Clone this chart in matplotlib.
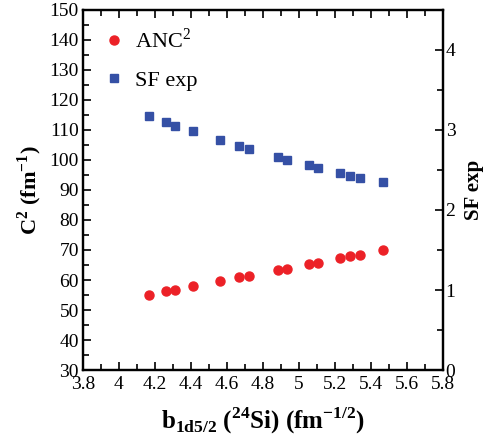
import matplotlib
matplotlib.use('Agg')
import matplotlib.pyplot as plt
from matplotlib.ticker import MultipleLocator

plt.rcParams['font.family'] = ['Liberation Serif', 'DejaVu Serif']
plt.rcParams['mathtext.fontset'] = 'custom'
plt.rcParams['mathtext.rm'] = 'Liberation Serif'
plt.rcParams['mathtext.bf'] = 'Liberation Serif:bold'

# b_1d5/2 values (fm^-1/2)
b = [4.168, 4.261, 4.311, 4.409, 4.561, 4.668, 4.721, 4.885, 4.935,
     5.054, 5.106, 5.229, 5.285, 5.341, 5.468]
# ANC^2 (fm^-1), left axis
anc2 = [55.1, 56.3, 56.8, 57.9, 59.7, 61.0, 61.4, 63.3, 63.8,
        65.3, 65.8, 67.3, 67.9, 68.4, 70.0]
# spectroscopic factor, right axis
sf = [3.175, 3.104, 3.054, 2.988, 2.871, 2.80, 2.762, 2.659, 2.621,
      2.559, 2.525, 2.462, 2.429, 2.40, 2.346]

red = '#ec2127'
blue = '#3550a5'

fig = plt.figure(figsize=(4.85, 4.48), dpi=100)
ax = fig.add_axes([0.171, 0.174, 0.742, 0.804])
ax2 = ax.twinx()

l1, = ax.plot(b, anc2, 'o', color=red, ms=6.5, mec=red, label='ANC$^2$')
l2, = ax2.plot(b, sf, 's', color=blue, ms=5.5, mec=blue, label='SF exp')

ax.set_xlim(3.8, 5.8)
ax.set_ylim(30, 150)
ax2.set_ylim(0, 4.5)

ax.xaxis.set_minor_locator(MultipleLocator(0.1))
ax.yaxis.set_major_locator(MultipleLocator(10))
ax.yaxis.set_minor_locator(MultipleLocator(5))
ax2.yaxis.set_major_locator(MultipleLocator(1))
ax2.yaxis.set_minor_locator(MultipleLocator(0.5))

ax.set_xticks([3.8, 4.0, 4.2, 4.4, 4.6, 4.8, 5.0, 5.2, 5.4, 5.6, 5.8])
ax.set_xticklabels(['3.8', '4', '4.2', '4.4', '4.6', '4.8', '5', '5.2', '5.4', '5.6', '5.8'])

ax.tick_params(axis='x', which='both', direction='in', top=True, labelsize=14, pad=4)
ax.tick_params(axis='y', which='both', direction='in', right=False, labelsize=14, pad=3)
ax.tick_params(which='major', length=6, width=1.2)
ax.tick_params(which='minor', length=4, width=1.2)
ax2.tick_params(axis='y', which='both', direction='in', labelsize=14, pad=2)
ax2.tick_params(which='major', length=6, width=1.2)
ax2.tick_params(which='minor', length=4, width=1.2)

for a in (ax, ax2):
    for s in a.spines.values():
        s.set_linewidth(1.6)

ax.set_xlabel(r'$\mathbf{b_{1d5/2}}$ ($^{\mathbf{24}}$Si) (fm$^{\mathbf{-1/2}}$)',
              fontsize=18, fontweight='bold', labelpad=9)
ax.set_ylabel(r'C$^{\mathbf{2}}$ (fm$^{\mathbf{-1}}$)', fontsize=16, fontweight='bold', labelpad=4)
ax2.set_ylabel('SF exp', fontsize=15, fontweight='bold', labelpad=6)

ax.legend(handles=[l1, l2], loc='upper left', frameon=False, fontsize=16,
          handlelength=1.0, handletextpad=0.45, borderaxespad=0, labelspacing=0.8,
          bbox_to_anchor=(0.03, 0.975))

fig.savefig('out.png', dpi=100)
